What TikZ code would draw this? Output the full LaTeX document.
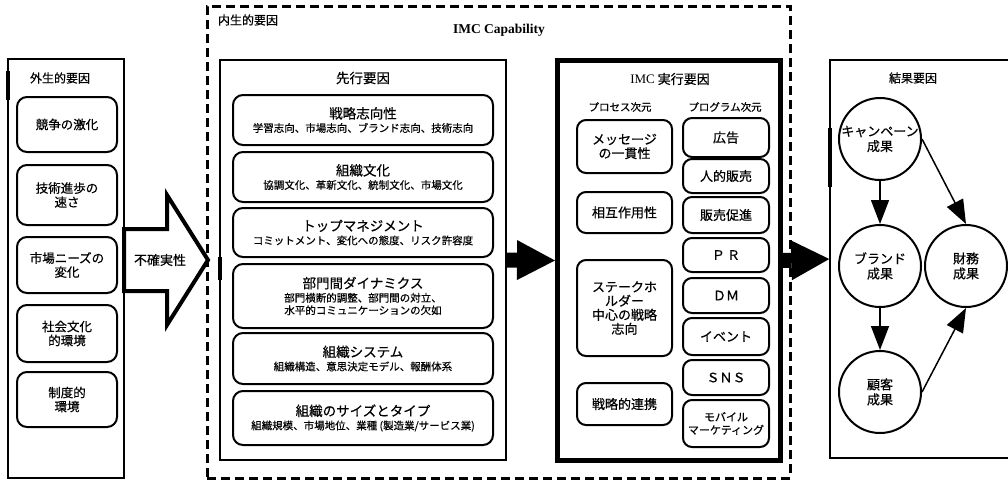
\documentclass[tikz,border=0pt]{standalone}
\usepackage{fontspec}
\setmainfont{Liberation Serif}
\newfontfamily\cjk{Noto Sans CJK JP}[FakeBold=0.5]
\usetikzlibrary{arrows.meta}
\newcommand\ttlx[1]{{\fontsize{13.5}{15}\selectfont #1}}
\begin{document}
\begin{tikzpicture}[x=1pt,y=-1pt,
  every node/.style={inner sep=0pt, align=center, font=\cjk\fontsize{13}{15}\selectfont},
  thinbox/.style={draw, line width=1.5pt, rectangle},
  ebox/.style={draw, line width=2pt, rounded corners=10pt, font=\cjk\fontsize{12.5}{14}\selectfont},
  dashbox/.style={draw, line width=3pt, dash pattern=on 9pt off 5pt},
  midbox/.style={draw, line width=2pt},
  sbox/.style={draw, line width=2pt, rounded corners=10pt, minimum width=260pt, font=\cjk\fontsize{10.5}{12.5}\selectfont},
  imcbox/.style={draw, line width=5pt},
  pbox/.style={draw, line width=2pt, rounded corners=9pt, minimum width=95pt, font=\cjk\fontsize{13}{14}\selectfont},
  qbox/.style={draw, line width=2pt, rounded corners=9pt, minimum width=86pt, font=\cjk\fontsize{13}{14}\selectfont},
  lbl/.style={font=\cjk\fontsize{12}{14}\selectfont},
  small/.style={font=\cjk\fontsize{10.5}{12}\selectfont},
  circ/.style={draw, circle, line width=2pt, minimum size=82pt, font=\cjk\fontsize{13}{15}\selectfont},
  carrow/.style={line width=1.5pt, -{Triangle[length=24pt,width=18pt]}},
  bigarrow/.style={line width=15pt, -{Triangle[length=38pt,width=40pt,line width=0pt]}},
  hollow/.style={draw, line width=4pt, fill=white, line join=miter},
  artifact/.style={line width=4pt}
]
\useasboundingbox (0,0) rectangle (1008,485);

% external factors
\node[thinbox, minimum width=116pt, minimum height=419pt] (ext) at (66,268.5) {};
\node[lbl] (extlbl) at (60,78) {外生的要因};
\node[ebox, minimum width=100pt, minimum height=55pt] (e1) at (67,124.5) {競争の激化};
\node[ebox, minimum width=100pt, minimum height=60pt] (e2) at (67,195) {技術進歩の\\速さ};
\node[ebox, minimum width=100pt, minimum height=56pt] (e3) at (67,265) {市場ニーズの\\変化};
\node[ebox, minimum width=100pt, minimum height=57pt] (e4) at (67,333.5) {社会文化\\的環境};
\node[ebox, minimum width=100pt, minimum height=55pt] (e5) at (67,399.5) {制度的\\環境};
\draw[artifact] (8,71) -- (8,100);

% endogenous dashed box
\node[dashbox, minimum width=583pt, minimum height=472pt] (endo) at (498.5,242) {};
\node[lbl] (endolbl) at (248,20) {内生的要因};
\node[font=\rmfamily\bfseries\fontsize{13.5}{15}\selectfont] (cap) at (499,30) {IMC Capability};

% hollow arrow
\draw[hollow] (124,229) -- (167,229) -- (167,195) -- (208,260) -- (167,325) -- (167,291) -- (124,291) -- cycle;
\node[font=\cjk\fontsize{13}{15}\selectfont] (unc) at (160,260) {不確実性};

% antecedents
\node[midbox, minimum width=286pt, minimum height=400pt] (pre) at (363,260) {};
\node[font=\cjk\fontsize{13.5}{15}\selectfont] (prelbl) at (363,78) {先行要因};
\node[sbox, minimum height=50pt] (s1) at (363,120) {\ttlx{戦略志向性}\\[1pt]学習志向、市場志向、ブランド志向、技術志向};
\node[sbox, minimum height=50pt] (s2) at (363,177) {\ttlx{組織文化}\\[1pt]協調文化、革新文化、統制文化、市場文化};
\node[sbox, minimum height=49pt] (s3) at (363,232.5) {\ttlx{トップマネジメント}\\[1pt]コミットメント、変化への態度、リスク許容度};
\node[sbox, minimum height=64pt] (s4) at (363,296) {\ttlx{部門間ダイナミクス}\\[1pt]部門横断的調整、部門間の対立、\\水平的コミュニケーションの欠如};
\node[sbox, minimum height=51pt] (s5) at (363,358.5) {\ttlx{組織システム}\\[1pt]組織構造、意思決定モデル、報酬体系};
\node[sbox, minimum height=54pt] (s6) at (363,418) {\ttlx{組織のサイズとタイプ}\\[1pt]組織規模、市場地位、業種 (製造業/サービス業)};
\draw[artifact] (220,257) -- (220,280);

% IMC execution factors
\node[imcbox, minimum width=223pt, minimum height=400pt] (imc) at (669,260.5) {};
\node (imclbl) at (670,79) {{\rmfamily IMC} 実行要因};
\node[small] (proc) at (620,107) {プロセス次元};
\node[small] (prog) at (725,107) {プログラム次元};
\node[pbox, minimum height=53pt] (p1) at (624.5,146.5) {メッセージ\\の一貫性};
\node[pbox, minimum height=41pt] (p2) at (624.5,212.5) {相互作用性};
\node[pbox, minimum height=96pt] (p3) at (624.5,308) {ステークホ\\ルダー\\中心の戦略\\志向};
\node[pbox, minimum height=42pt] (p4) at (624.5,404) {戦略的連携};
\node[qbox, minimum height=39pt] (q1) at (726,137.5) {広告};
\node[qbox, minimum height=34pt] (q2) at (726,176) {人的販売};
\node[qbox, minimum height=36pt] (q3) at (726,215) {販売促進};
\node[qbox, minimum height=34pt] (q4) at (726,255) {Ｐ\,Ｒ};
\node[qbox, minimum height=35pt] (q5) at (726,295.5) {ＤＭ};
\node[qbox, minimum height=37pt] (q6) at (726,336.5) {イベント};
\node[qbox, minimum height=35pt] (q7) at (726,377.5) {ＳＮＳ};
\node[qbox, minimum height=47pt, font=\cjk\fontsize{11}{13}\selectfont] (q8) at (726,423.5) {モバイル\\マーケティング};

% results
\node[thinbox, minimum width=182pt, minimum height=398pt] (res) at (921,259) {};
\node[lbl] (reslbl) at (913,78) {結果要因};
\draw[line width=3.5pt] (830,128) -- (830,187);
\node[circ] (c1) at (880,139) {キャンペーン\\成果};
\node[circ] (c2) at (880,266) {ブランド\\成果};
\node[circ] (c3) at (880,392) {顧客\\成果};
\node[circ] (c4) at (966,266) {財務\\成果};
\draw[carrow] (c1) -- (c2);
\draw[carrow] (c2) -- (c3);
\draw[carrow] (c1.east) -- (c4.north);
\draw[carrow] (c3.east) -- (c4.south);

% big arrows
\draw[bigarrow] (pre.east) -- (imc.west);
\draw[bigarrow] (imc.east) -- (res.west);
\end{tikzpicture}
\end{document}
